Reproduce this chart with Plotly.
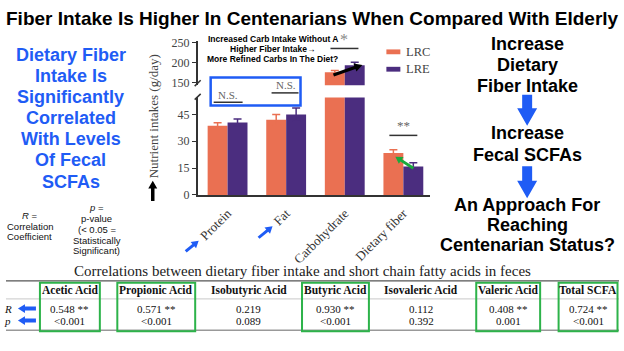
import math
import plotly.graph_objects as go

W, H = 624, 351
def X(px): return px / W
def Y(py): return 1 - py / H

# ---------------- data ----------------
nutrients = ["Protein", "Fat", "Carbohydrate", "Dietary fiber"]
lrc_vals = [38.7, 42.0, 175.5, 23.4]
lrc_err = [1.6, 3.0, 4.0, 1.8]
lre_vals = [40.5, 44.9, 192.5, 15.9]
lre_err = [1.9, 3.7, 7.5, 2.1]
low_ticks = [0, 15, 30, 45]
high_ticks = [150, 200, 250]
LOW_MAX = 54.5
HIGH_MIN = 143
HIGH_MAX = 254

acids = ["Acetic Acid", "Propionic Acid", "Isobutyric Acid", "Butyric Acid",
         "Isovaleric Acid", "Valeric Acid", "Total SCFA"]
r_vals = ["0.548 **", "0.571 **", "0.219", "0.930 **", "0.112", "0.408 **", "0.724 **"]
p_vals = ["&lt;0.001", "&lt;0.001", "0.089", "&lt;0.001", "0.392", "0.001", "&lt;0.001"]
highlighted = [True, True, False, True, False, True, True]

# ---------------- layout helpers (positions, px) ----------------
col_centers = [69, 155.5, 248, 335, 421, 508, 588]
box_half = [30, 39, 38, 33.5, 37, 32, 29.5]
row_y = {"head": 295.2, "R": 314.3, "p": 326.7}

ORANGE = "#EA7052"
PURPLE = "#4B2D7F"
BLUE = "#1F5CF5"
GREEN = "#2DB34A"
SERIF = "Liberation Serif"
SANS = "Liberation Sans"

fig = go.Figure()

for name, vals, errs, col in [("LRC", lrc_vals, lrc_err, ORANGE), ("LRE", lre_vals, lre_err, PURPLE)]:
    fig.add_trace(go.Bar(
        x=nutrients, y=vals, name=name, marker_color=col, marker_line_width=0,
        offsetgroup=name, xaxis="x", yaxis="y", showlegend=False,
        error_y=dict(type="data", array=errs, color=col, thickness=1.5, width=4)))
    hi = [v if v > HIGH_MIN else None for v in vals]
    hi_err = [e if v > HIGH_MIN else None for v, e in zip(vals, errs)]
    fig.add_trace(go.Bar(
        x=nutrients, y=hi, name=name, marker_color=col, marker_line_width=0,
        offsetgroup=name, xaxis="x", yaxis="y2", showlegend=False,
        error_y=dict(type="data", array=hi_err, color=col, thickness=1.5, width=4)))

# ---------------- shapes ----------------
shapes = []
def line(x0, y0, x1, y1, color="#333", width=1.5):
    shapes.append(dict(type="line", xref="paper", yref="paper", x0=X(x0), y0=Y(y0),
                       x1=X(x1), y1=Y(y1), line=dict(color=color, width=width)))

def rect(x0, y0, x1, y1, color=None, fill=None, width=2):
    d = dict(type="rect", xref="paper", yref="paper", x0=X(x0), y0=Y(y0), x1=X(x1), y1=Y(y1))
    if fill:
        d["fillcolor"] = fill
        d["line"] = dict(width=0)
    else:
        d["line"] = dict(color=color, width=width)
    shapes.append(d)

def block_arrow(x0, y0, x1, y1, shaft, head, headlen, color):
    L = math.hypot(x1 - x0, y1 - y0)
    dx, dy = (x1 - x0) / L, (y1 - y0) / L
    nx, ny = -dy, dx
    bx, by = x1 - dx * headlen, y1 - dy * headlen
    pts = [(x0 + nx * shaft / 2, y0 + ny * shaft / 2),
           (bx + nx * shaft / 2, by + ny * shaft / 2),
           (bx + nx * head / 2, by + ny * head / 2),
           (x1, y1),
           (bx - nx * head / 2, by - ny * head / 2),
           (bx - nx * shaft / 2, by - ny * shaft / 2),
           (x0 - nx * shaft / 2, y0 - ny * shaft / 2)]
    path = "M " + " L ".join("%.5f,%.5f" % (X(px), Y(py)) for px, py in pts) + " Z"
    shapes.append(dict(type="path", xref="paper", yref="paper", path=path,
                       fillcolor=color, line=dict(width=0)))

# axis break marks
line(194, 84, 200, 78)
line(194, 98, 200, 92)
# significance lines
line(330, 45, 358, 45)
line(389, 135, 417, 135)
line(213, 100.7, 242, 100.7)
line(271, 91, 298, 91)
# N.S. box
rect(210, 75, 300, 104, color=BLUE, width=2.5)
# legend swatches
rect(386, 46, 400, 51, fill=ORANGE)
rect(386, 64, 400, 69, fill=PURPLE)
# chart arrows
block_arrow(152, 203, 152, 182, 3.5, 9, 8, "#000")
block_arrow(185, 255, 198, 244, 3, 8.5, 7, BLUE)
block_arrow(258, 241, 272, 229, 3, 8.5, 7, BLUE)
block_arrow(333, 72.5, 362, 62, 3.2, 9, 8, "#000")
block_arrow(413, 169, 395, 157, 3, 8.5, 7, "#1aaa3c")
# right side flow arrows
block_arrow(527, 93, 527, 125, 10, 20, 18, BLUE)
block_arrow(527, 167, 527, 200, 10, 20, 18, BLUE)
# table rules
line(5, 285.7, 619, 285.7, color="#555", width=1.2)
line(5, 304.3, 619, 304.3, color="#bbb", width=0.8)
line(5, 336.7, 619, 336.7, color="#999", width=1.5)
for c, hw, h in zip(col_centers, box_half, highlighted):
    if h:
        rect(c - hw, 287.7, c + hw, 337.7, color=GREEN, width=2)
block_arrow(35, row_y["R"], 17, row_y["R"], 4, 9, 7, BLUE)
block_arrow(35, row_y["p"], 17, row_y["p"], 4, 9, 7, BLUE)

# ---------------- annotations ----------------
ann = []
def text(px, py, s, size, color="#000", family=SANS, bold=False, xanchor="center", angle=0):
    if bold:
        s = "<b>%s</b>" % s
    ann.append(dict(x=X(px), y=Y(py), xref="paper", yref="paper", text=s, showarrow=False,
                    xanchor=xanchor, yanchor="middle", textangle=angle, borderpad=0,
                    font=dict(family=family, size=size, color=color)))

text(312, 14, "Fiber Intake Is Higher In Centenarians When Compared With Elderly", 19, bold=True)

for s, py in zip(["Dietary Fiber", "Intake Is", "Significantly", "Correlated",
                  "With Levels", "Of Fecal", "SCFAs"], [52, 73.8, 95.6, 117.4, 139.2, 161, 182.8]):
    text(70, py, s, 18, color=BLUE, bold=True)

for s, py in zip(["<i>R</i> =", "Correlation", "Coefficient"], [218, 229, 240]):
    text(29, py, s, 9.5, color="#111")
for s, py in zip(["<i>p</i> =", "p-value", "(&lt; 0.05 =", "Statistically", "Significant)"],
                 [210, 221.5, 232.5, 243.5, 254.5]):
    text(96, py, s, 9.5, color="#111")

for s, py in zip(["Increase", "Dietary", "Fiber Intake"], [40, 61.7, 83.4]):
    text(527, py, s, 18, bold=True)
for s, py in zip(["Increase", "Fecal SCFAs"], [133, 155]):
    text(527, py, s, 18, bold=True)
for s, py in zip(["An Approach For", "Reaching", "Centenarian Status?"], [207, 227.5, 248.5]):
    text(527, py, s, 18, bold=True)

for s, py in zip(["Increased Carb Intake Without A", "Higher Fiber Intake\u2192",
                  "More Refined Carbs In The Diet?"], [35, 45.3, 55.7]):
    text(272, py, s, 8.5, bold=True)

text(344, 36, "*", 16, color="#888", family=SERIF)
text(403, 125, "**", 13, color="#666", family=SERIF)
text(227, 93, "N.S.", 11, color="#666", family=SERIF)
text(285, 83, "N.S.", 11, color="#666", family=SERIF)
text(405, 48.5, "LRC", 12.5, color="#444", family=SERIF, xanchor="left")
text(405, 66.5, "LRE", 12.5, color="#444", family=SERIF, xanchor="left")
text(153, 115.5, "Nutrient intakes (g/day)", 13, color="#444", family=SERIF, angle=-90)

text(302, 275, "Correlations between dietary fiber intake and short chain fatty acids in feces",
     15, color="#222", family=SERIF)

# table cells built from the data arrays
for c, a, r, p in zip(col_centers, acids, r_vals, p_vals):
    text(c, row_y["head"], a, 11.5, color="#111", family=SERIF, bold=True)
    text(c, row_y["R"], r, 11, color="#111", family=SERIF)
    text(c, row_y["p"], p, 11, color="#111", family=SERIF)
text(7, row_y["R"], "<i>R</i>", 11, color="#111", family=SERIF)
text(7, row_y["p"], "<i>p</i>", 11, color="#111", family=SERIF)

axis_common = dict(showline=True, linecolor="#333", linewidth=1.5, showgrid=False,
                   zeroline=False, ticks="outside", ticklen=4, tickcolor="#333", tickwidth=1.2,
                   tickfont=dict(family=SERIF, size=12, color="#444"))

fig.update_layout(
    width=W, height=H, autosize=False,
    margin=dict(l=0, r=0, t=0, b=0, pad=0),
    paper_bgcolor="white", plot_bgcolor="white",
    barmode="group", bargap=0.32, bargroupgap=0,
    xaxis=dict(domain=[X(197), X(430)], range=[-0.51, 3.46], anchor="y",
               showline=True, linecolor="#333", linewidth=1.5, showgrid=False, zeroline=False,
               ticks="", tickangle=-45, ticklabelstandoff=4,
               tickfont=dict(family=SERIF, size=13, color="#333")),
    yaxis=dict(domain=[Y(196.7), Y(95.7)], range=[0, LOW_MAX], tickvals=low_ticks,
               anchor="x", **axis_common),
    yaxis2=dict(domain=[Y(83), Y(37)], range=[HIGH_MIN, HIGH_MAX], tickvals=high_ticks,
                anchor="x", **axis_common),
    shapes=shapes,
    annotations=ann,
    showlegend=False,
)

fig.write_html("out.html")
